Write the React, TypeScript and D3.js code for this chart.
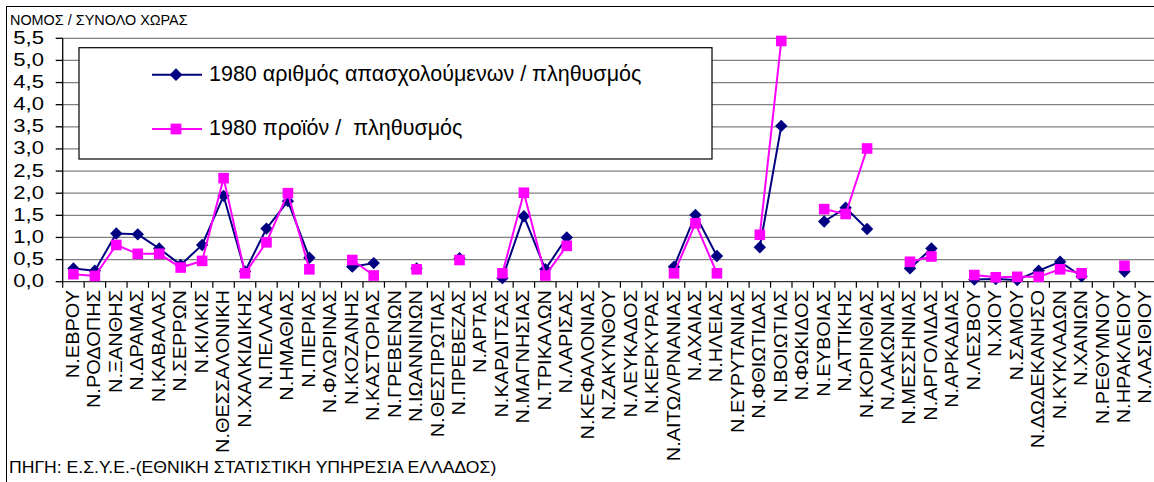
import React from "react";
import * as d3 from "d3";

const categories: string[] = [
  "Ν.ΕΒΡΟΥ", "Ν.ΡΟΔΟΠΗΣ", "Ν.ΞΑΝΘΗΣ", "Ν.ΔΡΑΜΑΣ", "Ν.ΚΑΒΑΛΑΣ", "Ν.ΣΕΡΡΩΝ", "Ν.ΚΙΛΚΙΣ",
  "Ν.ΘΕΣΣΑΛΟΝΙΚΗ", "Ν.ΧΑΛΚΙΔΙΚΗΣ", "Ν.ΠΕΛΛΑΣ", "Ν.ΗΜΑΘΙΑΣ", "Ν.ΠΙΕΡΙΑΣ", "Ν.ΦΛΩΡΙΝΑΣ",
  "Ν.ΚΟΖΑΝΗΣ", "Ν.ΚΑΣΤΟΡΙΑΣ", "Ν.ΓΡΕΒΕΝΩΝ", "Ν.ΙΩΑΝΝΙΝΩΝ", "Ν.ΘΕΣΠΡΩΤΙΑΣ", "Ν.ΠΡΕΒΕΖΑΣ",
  "Ν.ΑΡΤΑΣ", "Ν.ΚΑΡΔΙΤΣΑΣ", "Ν.ΜΑΓΝΗΣΙΑΣ", "Ν.ΤΡΙΚΑΛΩΝ", "Ν.ΛΑΡΙΣΑΣ", "Ν.ΚΕΦΑΛΟΝΙΑΣ",
  "Ν.ΖΑΚΥΝΘΟΥ", "Ν.ΛΕΥΚΑΔΟΣ", "Ν.ΚΕΡΚΥΡΑΣ", "Ν.ΑΙΤΩΛ/ΡΝΑΝΙΑΣ", "Ν.ΑΧΑΙΑΣ", "Ν.ΗΛΕΙΑΣ",
  "Ν.ΕΥΡΥΤΑΝΙΑΣ", "Ν.ΦΘΙΩΤΙΔΑΣ", "Ν.ΒΟΙΩΤΙΑΣ", "Ν.ΦΩΚΙΔΟΣ", "Ν.ΕΥΒΟΙΑΣ", "Ν.ΑΤΤΙΚΗΣ",
  "Ν.ΚΟΡΙΝΘΙΑΣ", "Ν.ΛΑΚΩΝΙΑΣ", "Ν.ΜΕΣΣΗΝΙΑΣ", "Ν.ΑΡΓΟΛΙΔΑΣ", "Ν.ΑΡΚΑΔΙΑΣ", "Ν.ΛΕΣΒΟΥ",
  "Ν.ΧΙΟΥ", "Ν.ΣΑΜΟΥ", "Ν.ΔΩΔΕΚΑΝΗΣΟ", "Ν.ΚΥΚΛΑΔΩΝ", "Ν.ΧΑΝΙΩΝ", "Ν.ΡΕΘΥΜΝΟΥ",
  "Ν.ΗΡΑΚΛΕΙΟΥ", "Ν.ΛΑΣΙΘΙΟΥ",
];

// 1980 employed / population
const employment: (number | null)[] = [
  0.30, 0.25, 1.09, 1.07, 0.75, 0.38, 0.83, 1.94, 0.23, 1.20, 1.82, 0.54, null,
  0.34, 0.42, null, 0.30, null, 0.53, null, 0.08, 1.48, 0.28, 1.00, null,
  null, null, null, 0.34, 1.51, 0.58, null, 0.78, 3.52, null, 1.36, 1.67,
  1.19, null, 0.30, 0.75, null, 0.05, 0.06, 0.04, 0.25, 0.45, 0.12, null,
  0.23, null,
];

// 1980 product / population
const product: (number | null)[] = [
  0.17, 0.13, 0.83, 0.63, 0.63, 0.32, 0.47, 2.34, 0.19, 0.89, 2.00, 0.28, null,
  0.49, 0.14, null, 0.28, null, 0.49, null, 0.19, 2.01, 0.14, 0.81, null,
  null, null, null, 0.19, 1.32, 0.19, null, 1.06, 5.44, null, 1.64, 1.53,
  3.01, null, 0.45, 0.57, null, 0.15, 0.10, 0.11, 0.11, 0.28, 0.19, null,
  0.36, null,
];

const yTicks: number[] = [0, 0.5, 1, 1.5, 2, 2.5, 3, 3.5, 4, 4.5, 5, 5.5];

const seriesNames: string[] = [
  "1980 αριθμός απασχολούμενων / πληθυσμός",
  "1980 προϊόν /  πληθυσμός",
];
const yTitle = "ΝΟΜΟΣ / ΣΥΝΟΛΟ ΧΩΡΑΣ";
const sourceText = "ΠΗΓΗ: Ε.Σ.Υ.Ε.-(ΕΘΝΙΚΗ ΣΤΑΤΙΣΤΙΚΗ ΥΠΗΡΕΣΙΑ ΕΛΛΑΔΟΣ)";

const W = 1154;
const H = 482;
const FONT = "'Liberation Sans', Arial, sans-serif";
const BLUE = "#000080";
const PINK = "#FF00FF";

export default function App() {
  const left = 62.7;
  const step = 21.45;
  const x = d3
    .scaleBand<string>()
    .domain(categories)
    .range([left, left + step * categories.length])
    .padding(0);
  const bw = x.bandwidth();
  const cx = (i: number) => (x(categories[i]) as number) + bw / 2;
  const y = d3.scaleLinear().domain([0, 5.5]).range([281.7, 38.3]);
  const fmt = (v: number) => d3.format(".1f")(v).replace(".", ",");

  type P = { i: number; v: number | null };
  const line = d3
    .line<P>()
    .defined((d) => d.v != null)
    .x((d) => cx(d.i))
    .y((d) => y(d.v as number));

  const empPts: P[] = employment.map((v, i) => ({ i, v }));
  const prodPts: P[] = product.map((v, i) => ({ i, v }));

  const diamond = (px: number, py: number, r: number) =>
    `M${px},${py - r}L${px + r},${py}L${px},${py + r}L${px - r},${py}Z`;

  const boundaries = categories.map((c) => x(c) as number).concat([left + step * categories.length]);

  const legend = { x: 79, y: 47.7, w: 633, h: 111.3 };

  return (
    <svg
      width={W}
      height={H}
      style={{ position: "absolute", left: 0, top: 0, background: "#fff" }}
      fontFamily={FONT}
    >
      <rect x={0} y={0} width={W} height={H} fill="#fff" />
      {/* chart frame */}
      <rect x={6.5} y={6.5} width={W + 20} height={H + 20} fill="none" stroke="#000" strokeWidth={1} />

      {/* title */}
      <text fontSize={14} fill="#000" transform="translate(10,25) scale(1.03,1)">
        {yTitle}
      </text>

      {/* gridlines */}
      {yTicks
        .filter((t) => t > 0)
        .map((t) => (
          <line
            key={"g" + t}
            x1={left}
            x2={W + 10}
            y1={y(t)}
            y2={y(t)}
            stroke="#808080"
            strokeWidth={1.3}
          />
        ))}

      {/* y axis */}
      <line x1={left} x2={left} y1={y(5.5)} y2={y(0)} stroke="#000" strokeWidth={1.3} />
      {yTicks.map((t) => (
        <g key={"yt" + t}>
          <line x1={left - 7} x2={left} y1={y(t)} y2={y(t)} stroke="#000" strokeWidth={1.3} />
          <text
            fontSize={17.7}
            textAnchor="end"
            fill="#000"
            transform={`translate(44,${y(t) + 5.5}) scale(1.25,1)`}
          >
            {fmt(t)}
          </text>
        </g>
      ))}

      {/* x axis */}
      <line x1={left} x2={W + 10} y1={y(0)} y2={y(0)} stroke="#333" strokeWidth={1.3} />
      {boundaries.map((bx, i) => (
        <line key={"xt" + i} x1={bx} x2={bx} y1={y(0)} y2={y(0) + 6} stroke="#000" strokeWidth={1.2} />
      ))}
      {categories.map((c, i) => (
        <text
          key={"xl" + i}
          fontSize={18.5}
          textAnchor="end"
          fill="#000"
          transform={`translate(${cx(i) + 5.5},290) rotate(-90) scale(1.08,1)`}
        >
          {c}
        </text>
      ))}

      {/* series 1 */}
      <path d={line(empPts) || ""} fill="none" stroke={BLUE} strokeWidth={2} />
      {empPts
        .filter((d) => d.v != null)
        .map((d) => (
          <path key={"e" + d.i} d={diamond(cx(d.i), y(d.v as number), 6.2)} fill={BLUE} />
        ))}

      {/* series 2 */}
      <path d={line(prodPts) || ""} fill="none" stroke={PINK} strokeWidth={2} />
      {prodPts
        .filter((d) => d.v != null)
        .map((d) => (
          <rect
            key={"p" + d.i}
            x={cx(d.i) - 5.3}
            y={y(d.v as number) - 5.3}
            width={10.6}
            height={10.6}
            fill={PINK}
          />
        ))}

      {/* legend */}
      <rect x={legend.x} y={legend.y} width={legend.w} height={legend.h} fill="#fff" stroke="#000" strokeWidth={1.2} />
      <line x1={152} x2={202} y1={74.7} y2={74.7} stroke={BLUE} strokeWidth={2} />
      <path d={diamond(176, 74.7, 6.4)} fill={BLUE} />
      <text x={209} y={80.5} fontSize={21.5} fill="#000">
        {seriesNames[0]}
      </text>
      <line x1={152} x2={202} y1={129} y2={129} stroke={PINK} strokeWidth={2} />
      <rect x={176 - 5.4} y={129 - 5.4} width={10.8} height={10.8} fill={PINK} />
      <text x={209} y={135} fontSize={21.5} fill="#000" style={{ whiteSpace: "pre" }}>
        {seriesNames[1]}
      </text>

      {/* source */}
      <text fontSize={16} fill="#000" transform="translate(9,473) scale(1.1,1)">
        {sourceText}
      </text>
    </svg>
  );
}
